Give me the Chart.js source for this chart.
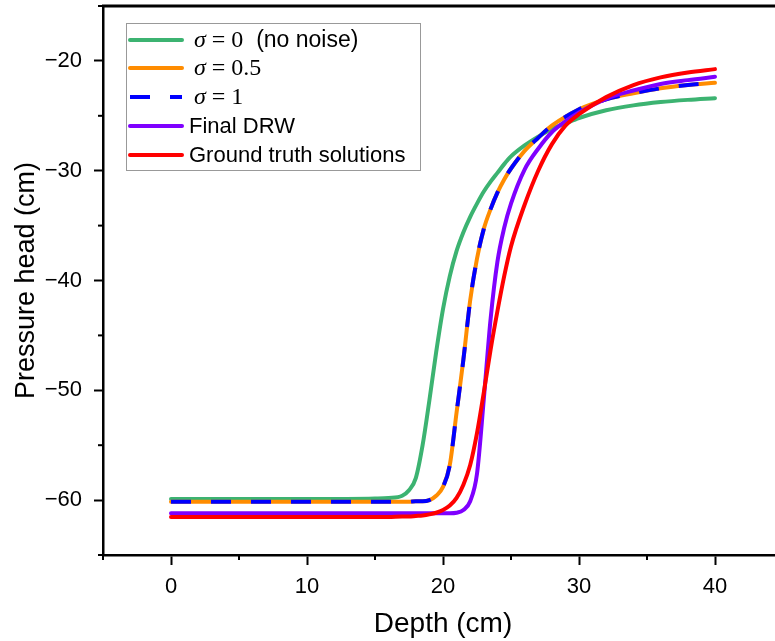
<!DOCTYPE html>
<html>
<head>
<meta charset="utf-8">
<script src="https://cdn.jsdelivr.net/npm/chart.js@4.4.1/dist/chart.umd.min.js"></script>
<style>
  html, body { margin: 0; padding: 0; background: #fff; overflow: hidden; }
  #wrap { width: 800px; height: 641px; }
</style>
</head>
<body>
<div id="wrap"><canvas id="chart" width="800" height="641"></canvas></div>
<script>
const depth = [0, 5, 10, 15, 16, 17, 17.5, 18, 18.5, 19, 19.5, 20, 20.5, 21, 21.5, 22,
  22.5, 23, 23.5, 24, 24.5, 25, 26, 27, 28, 29, 30, 32, 34, 36, 38, 40];

// pressure head (cm) for each run
const headNoNoise = [-59.9, -59.9, -59.9, -59.85, -59.8, -59.6, -59.1, -58.0, -55.0, -50.9, -46.5, -42.6,
  -39.6, -37.3, -35.6, -34.2, -33.0, -31.9, -31.0, -30.2, -29.4, -28.7, -27.7, -26.9, -26.2, -25.7,
  -25.2, -24.5, -24.05, -23.75, -23.55, -23.4];
const headSigma05 = [-60.15, -60.15, -60.15, -60.15, -60.15, -60.15, -60.15, -60.1, -60.1, -60.0, -59.6,
  -58.8, -56.8, -52.0, -47.2, -41.8, -38.0, -35.3, -33.5, -32.0, -30.8, -29.8, -28.2, -27.0, -25.9,
  -25.1, -24.4, -23.5, -22.95, -22.5, -22.2, -22.0];
const headSigma1 = [-60.15, -60.15, -60.15, -60.15, -60.15, -60.15, -60.15, -60.1, -60.1, -60.0, -59.6,
  -58.8, -56.8, -52.0, -47.2, -41.8, -38.0, -35.3, -33.5, -32.0, -30.8, -29.8, -28.2, -27.0, -25.9,
  -25.1, -24.4, -23.5, -22.95, -22.5, -22.2, -22.0];
const headFinalDRW = [-61.2, -61.2, -61.2, -61.2, -61.2, -61.2, -61.2, -61.2, -61.2, -61.2, -61.2, -61.2,
  -61.2, -61.15, -60.9, -60.1, -57.6, -50.8, -43.5, -38.3, -35.2, -33.0, -29.9, -28.0, -26.5, -25.5,
  -24.7, -23.45, -22.7, -22.1, -21.75, -21.45];
const headGroundTruth = [-61.55, -61.55, -61.55, -61.55, -61.55, -61.5, -61.5, -61.45, -61.4, -61.3,
  -61.15, -60.9, -60.5, -59.8, -58.6, -56.8, -53.9, -50.2, -46.3, -42.8, -39.6, -36.9, -33.1, -30.0,
  -27.6, -25.9, -24.85, -23.3, -22.2, -21.5, -21.05, -20.75];

// labelled ticks
const depthTicks = [0, 10, 20, 30, 40];
const headTicks = [-20, -30, -40, -50, -60];

const pts = arr => depth.map((d, i) => ({ x: d, y: arr[i] }));

const GREEN = '#3cb371', ORANGE = '#ff8c00', BLUE = '#0000ff', PURPLE = '#7f00ff', RED = '#ff0000';
const SANS = '"Liberation Sans", Arial, sans-serif';
const SERIF = '"Liberation Serif", "Times New Roman", serif';

function line(ctx, x1, y1, x2, y2) {
  ctx.beginPath();
  ctx.moveTo(x1, y1);
  ctx.lineTo(x2, y2);
  ctx.stroke();
}

// minor ticks, top frame line and the legend box
const extras = {
  id: 'extras',
  afterDraw(chart) {
    const { ctx, chartArea: a, scales: { x, y } } = chart;
    ctx.save();
    ctx.strokeStyle = '#000';
    ctx.lineWidth = 2;
    for (let v = -5; v <= 45; v += 10) {
      const px = x.getPixelForValue(v);
      line(ctx, px, a.bottom, px, a.bottom + 5);
    }
    for (let v = -15; v >= -65; v -= 10) {
      const py = y.getPixelForValue(v);
      line(ctx, a.left, py, a.left - 5, py);
    }
    ctx.lineWidth = 3;
    line(ctx, a.left - 1, a.top, chart.width, a.top);

    // legend
    ctx.fillStyle = '#fff';
    ctx.fillRect(126.5, 23.5, 294, 147);
    ctx.strokeStyle = '#999';
    ctx.lineWidth = 1;
    ctx.strokeRect(126.5, 23.5, 294, 147);

    const rows = [
      { color: GREEN, dash: [], parts: [['σ', 'italic 24px ' + SERIF], [' = 0', '24px ' + SERIF], ['  (no noise)', '23px ' + SANS]] },
      { color: ORANGE, dash: [], parts: [['σ', 'italic 24px ' + SERIF], [' = 0.5', '24px ' + SERIF]] },
      { color: BLUE, dash: [20, 20], parts: [['σ', 'italic 24px ' + SERIF], [' = 1', '24px ' + SERIF]] },
      { color: PURPLE, dash: [], parts: [['Final DRW', '22px ' + SANS]] },
      { color: RED, dash: [], parts: [['Ground truth solutions', '22px ' + SANS]] }
    ];
    const rowY = [40, 68, 97, 126, 155];
    rows.forEach((r, i) => {
      const yy = rowY[i];
      ctx.strokeStyle = r.color;
      ctx.lineWidth = 4;
      ctx.setLineDash(r.dash);
      ctx.lineCap = r.dash.length ? 'butt' : 'round';
      line(ctx, 130, yy, 182, yy);
      ctx.setLineDash([]);
      let tx = r.parts[0][0] === 'σ' ? 194 : 189;
      ctx.fillStyle = '#000';
      ctx.textBaseline = 'middle';
      r.parts.forEach(([t, f]) => {
        ctx.font = f;
        ctx.fillText(t, tx, yy + 1);
        tx += ctx.measureText(t).width;
      });
    });
    ctx.restore();
  }
};

const base = {
  pointRadius: 0,
  borderWidth: 4,
  borderCapStyle: 'round',
  cubicInterpolationMode: 'monotone',
  fill: false
};

new Chart(document.getElementById('chart'), {
  type: 'line',
  data: {
    datasets: [
      { ...base, label: 'σ = 0 (no noise)', data: pts(headNoNoise), borderColor: GREEN, order: 5 },
      { ...base, label: 'σ = 0.5', data: pts(headSigma05), borderColor: ORANGE, order: 4 },
      { ...base, label: 'σ = 1', data: pts(headSigma1), borderColor: BLUE, borderDash: [20, 20], borderCapStyle: 'butt', order: 3 },
      { ...base, label: 'Final DRW', data: pts(headFinalDRW), borderColor: PURPLE, order: 2 },
      { ...base, label: 'Ground truth solutions', data: pts(headGroundTruth), borderColor: RED, order: 1 }
    ]
  },
  options: {
    responsive: false,
    animation: false,
    layout: { padding: { top: 6, right: 17, left: 0, bottom: 0 } },
    plugins: { legend: { display: false }, tooltip: { enabled: false } },
    scales: {
      x: {
        type: 'linear',
        min: -5,
        max: 45,
        afterFit: s => { s.height = 86; s.paddingLeft = 0; s.paddingRight = 0; },
        ticks: {
          stepSize: 5,
          autoSkip: false,
          maxRotation: 0,
          padding: 9,
          color: '#000',
          font: { family: SANS, size: 22 },
          callback: v => depthTicks.includes(v) ? String(v) : ''
        },
        grid: {
          drawOnChartArea: false,
          tickLength: 10,
          tickWidth: 2,
          tickColor: c => depthTicks.includes(c.tick && c.tick.value) ? '#000' : 'rgba(0,0,0,0)'
        },
        border: { color: '#000', width: 2.5 },
        title: {
          display: true,
          text: 'Depth (cm)',
          color: '#000',
          font: { family: SANS, size: 28 },
          padding: { top: 0, bottom: 0 }
        }
      },
      y: {
        min: -65,
        max: -15,
        afterFit: s => { s.width = 103; s.paddingTop = 0; s.paddingBottom = 0; },
        ticks: {
          stepSize: 5,
          autoSkip: false,
          padding: 12,
          color: '#000',
          font: { family: SANS, size: 22 },
          callback: v => headTicks.includes(v) ? '\u2212' + Math.abs(v) : ''
        },
        grid: {
          drawOnChartArea: false,
          tickLength: 9,
          tickWidth: 2,
          tickColor: c => headTicks.includes(c.tick && c.tick.value) ? '#000' : 'rgba(0,0,0,0)'
        },
        border: { color: '#000', width: 2.5 },
        title: {
          display: true,
          text: 'Pressure head (cm)',
          color: '#000',
          font: { family: SANS, size: 27 },
          padding: { top: 10, bottom: 0 }
        }
      }
    }
  },
  plugins: [extras]
});
</script>
</body>
</html>
